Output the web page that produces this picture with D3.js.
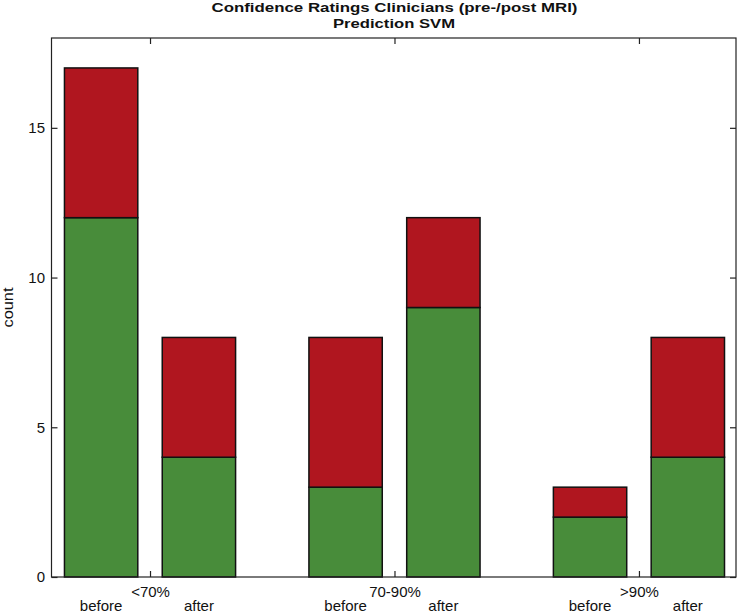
<!DOCTYPE html>
<html><head><meta charset="utf-8">
<script src="https://cdn.jsdelivr.net/npm/d3@7"></script>
<style>body{margin:0;background:#fff}svg{display:block;font-family:"Liberation Sans",Arial,Helvetica,sans-serif}</style>
</head><body><svg id="c" width="738" height="613"></svg>
<script>
const categories = ["<70%", "70-90%", ">90%"];
const phases = ["before", "after"];
const greenBefore = [12, 3, 2];
const redBefore = [5, 5, 1];
const greenAfter = [4, 9, 4];
const redAfter = [4, 3, 4];
const yTicks = [0, 5, 10, 15];

const svg = d3.select("#c");
const L = 51.5, R = 736, T = 38, B = 577;
const FONT = "Liberation Sans, Arial, sans-serif";
const x = d3.scaleLinear().domain([0.597, 3.397]).range([L, R]);
const y = d3.scaleLinear().domain([0, 18]).range([B, T]);
const green = "#488c3a", red = "#b0161f";

const bars = [];
categories.forEach((c, i) => {
  bars.push({cat: i + 1, off: -0.2, g: greenBefore[i], r: redBefore[i], label: phases[0]});
  bars.push({cat: i + 1, off: 0.2, g: greenAfter[i], r: redAfter[i], label: phases[1]});
});
const bw = x(0.3) - x(0);

bars.forEach(b => {
  const cx = x(b.cat + b.off);
  svg.append("rect").attr("x", cx - bw / 2).attr("y", y(b.g)).attr("width", bw).attr("height", y(0) - y(b.g))
    .attr("fill", green).attr("stroke", "#111").attr("stroke-width", 1.5);
  svg.append("rect").attr("x", cx - bw / 2).attr("y", y(b.g + b.r)).attr("width", bw).attr("height", y(b.g) - y(b.g + b.r))
    .attr("fill", red).attr("stroke", "#111").attr("stroke-width", 1.5);
  svg.append("text").attr("x", cx).attr("y", 610.5).attr("text-anchor", "middle").attr("font-size", 15).attr("fill", "#111").text(b.label);
});

// frame
svg.append("rect").attr("x", L).attr("y", T).attr("width", R - L).attr("height", B - T)
  .attr("fill", "none").attr("stroke", "#222").attr("stroke-width", 1.2);

// y axis ticks (inside) left and right
const yl = svg.append("g").attr("transform", `translate(${L},0)`)
  .call(d3.axisLeft(y).tickValues(yTicks).tickSize(-6).tickPadding(6.5).tickFormat(d3.format("d")));
yl.select(".domain").remove();
yl.selectAll("text").attr("font-size", 15).attr("font-family", FONT).attr("fill", "#111");
yl.selectAll("line").attr("stroke", "#222").attr("stroke-width", 1.2);
const yr = svg.append("g").attr("transform", `translate(${R},0)`)
  .call(d3.axisRight(y).tickValues(yTicks).tickSize(-6).tickFormat(""));
yr.select(".domain").remove();
yr.selectAll("line").attr("stroke", "#222").attr("stroke-width", 1.2);

// x axis ticks inside bottom and top
const xb = svg.append("g").attr("transform", `translate(0,${B})`)
  .call(d3.axisBottom(x).tickValues([1, 2, 3]).tickSize(-6).tickPadding(9).tickFormat((d, i) => categories[i]));
xb.select(".domain").remove();
xb.selectAll("text").attr("font-size", 15).attr("font-family", FONT).attr("fill", "#111");
xb.selectAll("line").attr("stroke", "#222").attr("stroke-width", 1.2);
const xt = svg.append("g").attr("transform", `translate(0,${T})`)
  .call(d3.axisTop(x).tickValues([1, 2, 3]).tickSize(-6).tickFormat(""));
xt.select(".domain").remove();
xt.selectAll("line").attr("stroke", "#222").attr("stroke-width", 1.2);

// titles
svg.append("text").attr("x", 394.5).attr("y", 12).attr("text-anchor", "middle").attr("font-size", 13.5).attr("font-weight", "bold").attr("fill", "#111")
  .attr("textLength", 366).attr("lengthAdjust", "spacingAndGlyphs")
  .text("Confidence Ratings Clinicians (pre-/post MRI)");
svg.append("text").attr("x", 394).attr("y", 27.5).attr("text-anchor", "middle").attr("font-size", 13.5).attr("font-weight", "bold").attr("fill", "#111")
  .attr("textLength", 122).attr("lengthAdjust", "spacingAndGlyphs")
  .text("Prediction SVM");
svg.append("text").attr("transform", "translate(12.5,307.5) rotate(-90)").attr("text-anchor", "middle").attr("font-size", 15).attr("fill", "#111")
  .attr("textLength", 40).attr("lengthAdjust", "spacingAndGlyphs").text("count");
</script></body></html>
